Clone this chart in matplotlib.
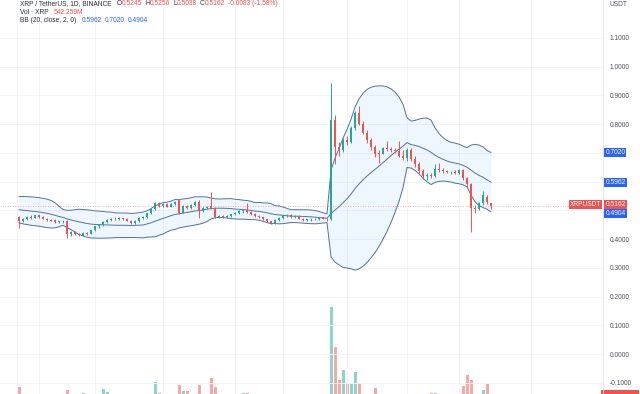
import numpy as np
import pandas as pd
import matplotlib

matplotlib.use("Agg")
import matplotlib.pyplot as plt
import matplotlib.transforms as mtransforms

plt.rcParams["font.family"] = ["Liberation Sans", "DejaVu Sans"]

# XRP / USDT daily, Binance (Apr 26 - Aug 22)
# 19 closes before the first visible candle, only used for the Bollinger window
pre_close = [0.500, 0.505, 0.510, 0.505, 0.512, 0.518, 0.515, 0.525, 0.535, 0.540,
             0.530, 0.520, 0.495, 0.485, 0.478, 0.482, 0.475, 0.470, 0.472]

opens = [0.476, 0.462, 0.470, 0.478, 0.474, 0.482, 0.476, 0.470, 0.466, 0.465,
         0.458, 0.461, 0.463, 0.418, 0.424, 0.417, 0.413, 0.421, 0.419, 0.430,
         0.444, 0.449, 0.460, 0.467, 0.471, 0.468, 0.472, 0.469, 0.464, 0.455,
         0.463, 0.474, 0.477, 0.489, 0.505, 0.524, 0.515, 0.521, 0.513, 0.522,
         0.534, 0.492, 0.515, 0.509, 0.519, 0.530, 0.497, 0.509, 0.514, 0.508,
         0.478, 0.480, 0.475, 0.481, 0.486, 0.491, 0.497, 0.500, 0.493, 0.487,
         0.481, 0.475, 0.468, 0.461, 0.456, 0.465, 0.473, 0.479, 0.485, 0.477,
         0.480, 0.470, 0.466, 0.468, 0.470, 0.468, 0.475, 0.471, 0.468, 0.815,
         0.720, 0.710, 0.745, 0.738, 0.785, 0.840, 0.800, 0.770, 0.745, 0.720,
         0.700, 0.697, 0.715, 0.712, 0.709, 0.706, 0.690, 0.683, 0.710, 0.680,
         0.660, 0.635, 0.620, 0.624, 0.619, 0.645, 0.640, 0.637, 0.632, 0.634,
         0.631, 0.639, 0.611, 0.590, 0.508, 0.504, 0.525, 0.546, 0.5245]
highs = [0.481, 0.472, 0.480, 0.482, 0.485, 0.484, 0.479, 0.474, 0.470, 0.468,
         0.464, 0.467, 0.465, 0.428, 0.427, 0.422, 0.424, 0.425, 0.432, 0.446,
         0.452, 0.462, 0.470, 0.474, 0.475, 0.476, 0.474, 0.472, 0.466, 0.465,
         0.476, 0.480, 0.492, 0.508, 0.528, 0.530, 0.524, 0.526, 0.525, 0.533,
         0.540, 0.518, 0.519, 0.522, 0.532, 0.534, 0.512, 0.516, 0.563, 0.512,
         0.483, 0.482, 0.483, 0.488, 0.494, 0.500, 0.503, 0.525, 0.496, 0.490,
         0.484, 0.478, 0.470, 0.463, 0.468, 0.476, 0.482, 0.488, 0.487, 0.483,
         0.482, 0.472, 0.471, 0.472, 0.474, 0.477, 0.478, 0.474, 0.943, 0.830,
         0.738, 0.752, 0.760, 0.792, 0.845, 0.862, 0.810, 0.780, 0.750, 0.728,
         0.708, 0.720, 0.740, 0.720, 0.716, 0.740, 0.710, 0.715, 0.716, 0.690,
         0.668, 0.642, 0.630, 0.628, 0.660, 0.665, 0.648, 0.641, 0.638, 0.640,
         0.645, 0.642, 0.615, 0.595, 0.520, 0.530, 0.566, 0.552, 0.5256]
lows = [0.440, 0.458, 0.466, 0.471, 0.472, 0.474, 0.468, 0.463, 0.461, 0.455,
        0.455, 0.457, 0.405, 0.412, 0.414, 0.410, 0.410, 0.415, 0.417, 0.428,
        0.440, 0.446, 0.456, 0.463, 0.465, 0.465, 0.466, 0.461, 0.452, 0.452,
        0.460, 0.470, 0.474, 0.486, 0.502, 0.512, 0.511, 0.510, 0.510, 0.518,
        0.488, 0.489, 0.506, 0.506, 0.516, 0.472, 0.494, 0.505, 0.505, 0.474,
        0.473, 0.472, 0.472, 0.478, 0.483, 0.488, 0.492, 0.490, 0.484, 0.478,
        0.472, 0.465, 0.458, 0.452, 0.453, 0.462, 0.470, 0.476, 0.474, 0.472,
        0.468, 0.463, 0.462, 0.464, 0.466, 0.466, 0.469, 0.464, 0.465, 0.660,
        0.690, 0.702, 0.728, 0.735, 0.778, 0.795, 0.765, 0.735, 0.710, 0.685,
        0.665, 0.694, 0.706, 0.702, 0.700, 0.685, 0.675, 0.672, 0.670, 0.650,
        0.628, 0.610, 0.606, 0.612, 0.616, 0.634, 0.630, 0.628, 0.626, 0.627,
        0.627, 0.605, 0.580, 0.424, 0.490, 0.500, 0.520, 0.522, 0.5038]
closes = [0.462, 0.470, 0.478, 0.474, 0.482, 0.476, 0.470, 0.466, 0.464, 0.458,
          0.461, 0.463, 0.418, 0.424, 0.417, 0.413, 0.421, 0.419, 0.430, 0.444,
          0.449, 0.460, 0.467, 0.471, 0.468, 0.472, 0.469, 0.464, 0.455, 0.463,
          0.474, 0.477, 0.489, 0.505, 0.524, 0.515, 0.521, 0.513, 0.522, 0.530,
          0.492, 0.515, 0.509, 0.519, 0.528, 0.497, 0.509, 0.512, 0.508, 0.478,
          0.480, 0.475, 0.481, 0.486, 0.491, 0.497, 0.500, 0.493, 0.487, 0.481,
          0.475, 0.468, 0.461, 0.456, 0.465, 0.473, 0.479, 0.485, 0.477, 0.480,
          0.470, 0.466, 0.468, 0.470, 0.468, 0.475, 0.471, 0.468, 0.815, 0.720,
          0.710, 0.745, 0.738, 0.785, 0.840, 0.800, 0.770, 0.745, 0.720, 0.695,
          0.697, 0.715, 0.712, 0.709, 0.706, 0.690, 0.683, 0.710, 0.680, 0.660,
          0.635, 0.620, 0.624, 0.619, 0.645, 0.640, 0.637, 0.632, 0.634, 0.631,
          0.639, 0.611, 0.590, 0.508, 0.504, 0.525, 0.553, 0.530, 0.5162]
# volume in millions XRP
volumes = [790, 420, 380, 350, 400, 330, 310, 360, 300, 400,
           320, 340, 720, 480, 400, 460, 650, 360, 400, 520,
           560, 745, 670, 480, 400, 360, 340, 380, 480, 400,
           440, 360, 520, 580, 910, 650, 440, 400, 420, 480,
           840, 700, 700, 440, 480, 840, 520, 440, 1010, 790,
           480, 400, 380, 400, 440, 480, 650, 650, 440, 400,
           360, 480, 520, 440, 480, 400, 360, 440, 400, 360,
           400, 340, 320, 300, 320, 340, 360, 380, 2710, 1750,
           960, 1200, 865, 865, 1150, 890, 580, 560, 540, 770,
           560, 440, 400, 360, 340, 480, 440, 520, 480, 520,
           560, 540, 480, 650, 650, 440, 360, 320, 300, 320,
           360, 815, 1080, 960, 560, 520, 720, 865, 542.259]

# Bollinger (20, close, 2) values shown in the legend / price scale
bb_basis_last = 0.5962
bb_upper_last = 0.7020
bb_lower_last = 0.4904
last_close = 0.5162

grid_prices = [-0.1, 0.0, 0.1, 0.2, 0.3, 0.4, 0.5, 0.6, 0.7, 0.8, 0.9, 1.0, 1.1]
# labels hidden where the BB / price tags sit
label_prices = [-0.1, 0.0, 0.1, 0.2, 0.3, 0.4, 0.8, 0.9, 1.0, 1.1]
# time-scale grid (May 1, May 15, Jun 1, Jun 19, Jul 1, Jul 17, Aug 1, Aug 14, Sep 1)
time_grid = [-0.5, 5, 19, 36, 54, 66, 82, 97, 110, 128]

UP = "#26a69a"
DOWN = "#ef5350"
BLUE = "#2962ff"
BAND = "#4f6fa8"
TXT = "#2a2e39"
AX_TXT = "#50535e"
W, H = 640, 394

o = np.array(opens)
h = np.array(highs)
l = np.array(lows)
c = np.array(closes)
idx = np.arange(len(c))

s = pd.Series(pre_close + closes)
basis = s.rolling(20).mean().to_numpy()[len(pre_close):]
dev = s.rolling(20).std(ddof=0).to_numpy()[len(pre_close):]
upper = basis + 2 * dev
lower = basis - 2 * dev

fig = plt.figure(figsize=(W / 100, H / 100), dpi=100)
fig.patch.set_facecolor("white")
ax = fig.add_axes([0, 0, 603 / W, 1])
ax_v = ax.twinx()
ax.set_zorder(2)
ax_v.set_zorder(1)
ax.patch.set_visible(False)

# volume: pane base sits ~26 px below the cut-off bottom edge
vcol = [UP if cc >= oo else DOWN for oo, cc in zip(o, c)]
ax_v.bar(idx, volumes, width=0.75, color=vcol, alpha=0.5, linewidth=0)
ax_v.set_ylim(624, 624 + 394 * 24)
ax_v.set_yticks([])
for sp in ax_v.spines.values():
    sp.set_visible(False)

# grid
for v in grid_prices:
    ax.axhline(v, color="#f0f3fa", lw=0.6, zorder=0)
for g in time_grid:
    ax.axvline(g, color="#f0f3fa", lw=0.6, zorder=0)

# bollinger bands
ax.fill_between(idx, lower, upper, color="#2196f3", alpha=0.07, lw=0, zorder=1)
for band in (upper, basis, lower):
    ax.plot(idx, band, color=BAND, lw=0.7, zorder=2)

# candles
ax.vlines(idx, l, h, colors=vcol, lw=0.7, zorder=3)
body = np.maximum(np.abs(c - o), 0.0025)
ax.bar(idx, body, bottom=np.minimum(o, c), width=0.7, color=vcol, lw=0, zorder=4)

# last price line
ax.axhline(last_close, color=DOWN, lw=0.6, ls=(0, (1, 2)), alpha=0.6, zorder=2)

ax.set_xlim(-4.75, 146)
ax.set_ylim(-0.1391, 1.2313)
ax.set_xticks([])
ax.yaxis.tick_right()
ax.set_yticks(label_prices)
ax.set_yticklabels([f"{v:.4f}" for v in label_prices])
ax.tick_params(axis="y", length=0, pad=5, labelsize=4.8, labelcolor=AX_TXT)
for name, sp in ax.spines.items():
    if name == "right":
        sp.set_color("#e0e3eb")
        sp.set_linewidth(0.6)
    else:
        sp.set_visible(False)

# price scale tags (the close tag is nudged up so it does not sit on the lower band tag)
tr = mtransforms.blended_transform_factory(ax.transAxes, ax.transData)
tags = [(bb_upper_last, BLUE, 0), (bb_basis_last, BLUE, 0),
        (last_close, DOWN, 1.5), (bb_lower_last, BLUE, -0.8)]
for val, col, dy in tags:
    off = tr + mtransforms.ScaledTranslation(0, dy / 100, fig.dpi_scale_trans)
    ax.text(1.004, val, f"{val:.4f}", transform=off, ha="left", va="center",
            fontsize=4.8, color="white", clip_on=False, zorder=6,
            bbox=dict(boxstyle="square,pad=0.15", fc=col, ec="none"))
off = tr + mtransforms.ScaledTranslation(0, 1.5 / 100, fig.dpi_scale_trans)
ax.text(0.997, last_close, "XRPUSDT", transform=off, ha="right", va="center",
        fontsize=4.8, color="white", zorder=6,
        bbox=dict(boxstyle="square,pad=0.15", fc=DOWN, ec="none"))
trv = mtransforms.blended_transform_factory(ax_v.transAxes, ax_v.transData)
ax_v.text(1.004, volumes[-1], "542.259M", transform=trv, ha="left", va="center",
          fontsize=4.8, color="white", clip_on=False,
          bbox=dict(boxstyle="square,pad=0.6", fc=DOWN, ec="none"))

fig.text(610 / W, 1 - 4 / H, "USDT", fontsize=4.8, color=AX_TXT, va="center")


def text_run(x, y, pieces):
    r = fig.canvas.get_renderer()
    for txt, col, gap in pieces:
        t = fig.text(x / W, 1 - y / H, txt, color=col, fontsize=4.8, va="center", ha="left")
        x += t.get_window_extent(r).width + gap


text_run(20, 3.5, [("XRP / TetherUS, 1D, BINANCE", TXT, 5),
                   ("O", TXT, 0), ("0.5245", DOWN, 3),
                   ("H", TXT, 0), ("0.5256", DOWN, 3),
                   ("L", TXT, 0), ("0.5038", DOWN, 3),
                   ("C", TXT, 0), ("0.5162", DOWN, 3),
                   ("-0.0083 (-1.58%)", DOWN, 0)])
text_run(20, 12.3, [("Vol · XRP", TXT, 5), ("542.259M", DOWN, 0)])
text_run(20, 20, [("BB (20, close, 2, 0)", TXT, 5),
                  (f"{bb_basis_last:.4f}", BLUE, 3),
                  (f"{bb_upper_last:.4f}", BLUE, 3),
                  (f"{bb_lower_last:.4f}", BLUE, 0)])

fig.savefig("out.png", dpi=100)
